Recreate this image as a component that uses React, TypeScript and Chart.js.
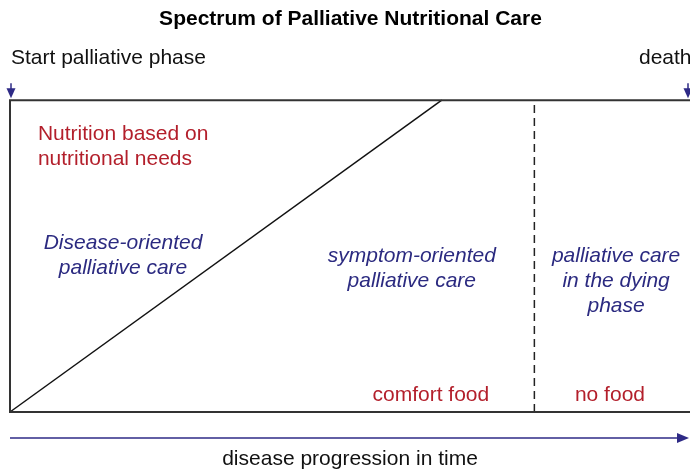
import React, { useEffect, useRef } from "react";
import { Chart, registerables } from "chart.js";

Chart.register(...registerables);

// ---- data (time axis 0..100, nutrition share 0..100) ----
const titleText = "Spectrum of Palliative Nutritional Care";
const startLabel = "Start palliative phase";
const endLabel = "death";
const axisLabel = "disease progression in time";

const timeRange = [0, 100];
const shareRange = [0, 100];
const frameX = [100, 0, 0, 100];
const frameY = [100, 100, 0, 0];
const diseaseOrientedX = [0, 63.4];
const diseaseOrientedY = [0, 100];
const dyingPhaseStart = 77.0;

const nutritionLines = ["Nutrition based on", "nutritional needs"];
const diseaseLines = ["Disease-oriented", "palliative care"];
const symptomLines = ["symptom-oriented", "palliative care"];
const dyingLines = ["palliative care", "in the dying", "phase"];
const comfortLines = ["comfort food"];
const noFoodLines = ["no food"];

const RED = "#b31f2b";
const BLUE = "#2b2a80";
const ARROW = "#2e2a86";
const FONT = "'Liberation Sans', Arial, sans-serif";

type Block = { lines: string[]; x: number; y: number; align: CanvasTextAlign; color: string; italic: boolean };

const blocks: Block[] = [
  { lines: nutritionLines, x: 4.1, y: 85.1, align: "left", color: RED, italic: false },
  { lines: diseaseLines, x: 16.6, y: 50.3, align: "center", color: BLUE, italic: true },
  { lines: symptomLines, x: 59.0, y: 46.1, align: "center", color: BLUE, italic: true },
  { lines: dyingLines, x: 89.0, y: 42.1, align: "center", color: BLUE, italic: true },
  { lines: comfortLines, x: 61.8, y: 5.3, align: "center", color: RED, italic: false },
  { lines: noFoodLines, x: 88.1, y: 5.3, align: "center", color: RED, italic: false },
];

const toPts = (xs: number[], ys: number[]) => xs.map((x, i) => ({ x, y: ys[i] }));

const annotationPlugin = {
  id: "annotations",
  afterDraw(chart: any) {
    const { ctx, chartArea, scales } = chart;
    const xs = scales.x;
    const ys = scales.y;
    ctx.save();
    ctx.textBaseline = "middle";
    // region texts
    for (const b of blocks) {
      ctx.font = `${b.italic ? "italic " : ""}21px ${FONT}`;
      ctx.fillStyle = b.color;
      ctx.textAlign = b.align;
      const px = xs.getPixelForValue(b.x);
      const py = ys.getPixelForValue(b.y);
      const n = b.lines.length;
      b.lines.forEach((t, i) => {
        ctx.fillText(t, px, py + (i - (n - 1) / 2) * 25);
      });
    }
    // top labels
    ctx.font = `21px ${FONT}`;
    ctx.fillStyle = "#111";
    ctx.textAlign = "left";
    ctx.fillText(startLabel, xs.getPixelForValue(timeRange[0]) + 1, chartArea.top - 42);
    ctx.fillText(endLabel, xs.getPixelForValue(timeRange[1]) - 52, chartArea.top - 42);
    // bottom label
    ctx.textAlign = "center";
    ctx.fillText(axisLabel, 350, chartArea.bottom + 47);

    // down arrows
    const downArrow = (x: number) => {
      ctx.strokeStyle = ARROW;
      ctx.fillStyle = ARROW;
      ctx.lineWidth = 1.5;
      ctx.beginPath();
      ctx.moveTo(x, chartArea.top - 17);
      ctx.lineTo(x, chartArea.top - 8);
      ctx.stroke();
      ctx.beginPath();
      ctx.moveTo(x - 4.5, chartArea.top - 12);
      ctx.lineTo(x + 4.5, chartArea.top - 12);
      ctx.lineTo(x, chartArea.top - 2);
      ctx.closePath();
      ctx.fill();
    };
    downArrow(xs.getPixelForValue(timeRange[0]) + 1);
    downArrow(xs.getPixelForValue(timeRange[1]) - 3);

    // time arrow
    const ay = chartArea.bottom + 26;
    const x0 = xs.getPixelForValue(timeRange[0]);
    const x1 = xs.getPixelForValue(timeRange[1]) - 2;
    ctx.strokeStyle = ARROW;
    ctx.fillStyle = ARROW;
    ctx.lineWidth = 1.5;
    ctx.beginPath();
    ctx.moveTo(x0, ay);
    ctx.lineTo(x1 - 8, ay);
    ctx.stroke();
    ctx.beginPath();
    ctx.moveTo(x1 - 12, ay - 5);
    ctx.lineTo(x1, ay);
    ctx.lineTo(x1 - 12, ay + 5);
    ctx.closePath();
    ctx.fill();
    ctx.restore();
  },
};

export default function App() {
  const ref = useRef<HTMLCanvasElement | null>(null);
  useEffect(() => {
    if (!ref.current) return;
    const chart = new Chart(ref.current, {
      type: "scatter",
      data: {
        datasets: [
          {
            label: "frame",
            data: toPts(frameX, frameY),
            showLine: true,
            borderColor: "#333333",
            borderWidth: 2,
            pointRadius: 0,
            clip: false as any,
          },
          {
            label: "disease-oriented",
            data: toPts(diseaseOrientedX, diseaseOrientedY),
            showLine: true,
            borderColor: "#111111",
            borderWidth: 1.5,
            pointRadius: 0,
            clip: false as any,
          },
          {
            label: "dying phase",
            data: toPts([dyingPhaseStart, dyingPhaseStart], shareRange),
            showLine: true,
            borderColor: "#222222",
            borderWidth: 1.5,
            borderDash: [8, 5],
            pointRadius: 0,
            clip: false as any,
          },
        ],
      },
      options: {
        animation: false,
        responsive: false,
        devicePixelRatio: 1,
        layout: { padding: { left: 10, right: 29, top: 0, bottom: 57 } },
        scales: {
          x: { type: "linear", min: timeRange[0], max: timeRange[1], display: false },
          y: { type: "linear", min: shareRange[0], max: shareRange[1], display: false },
        },
        plugins: {
          legend: { display: false },
          tooltip: { enabled: false },
          title: {
            display: true,
            text: titleText,
            color: "#000",
            font: { family: FONT, size: 21, weight: "bold" },
            padding: { top: 7, bottom: 68 },
          },
        },
      },
      plugins: [annotationPlugin],
    });
    return () => chart.destroy();
  }, []);
  return (
    <div style={{ position: "fixed", left: 0, top: 0, width: 690, height: 469, overflow: "hidden", background: "#fff" }}>
      <canvas ref={ref} width={720} height={469} style={{ display: "block" }} />
    </div>
  );
}
